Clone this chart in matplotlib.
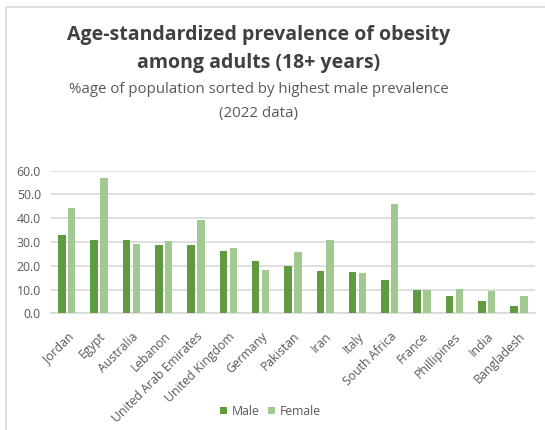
import numpy as np
import matplotlib.pyplot as plt
from matplotlib.lines import Line2D

# Obesity prevalence (%), adults 18+, 2022
countries = ["Jordan", "Egypt", "Australia", "Lebanon", "United Arab Emirates",
             "United Kingdom", "Germany", "Pakistan", "Iran", "Italy",
             "South Africa", "France", "Phillipines", "India", "Bangladesh"]
male = [32.8, 31.0, 31.0, 28.6, 28.6, 26.2, 22.2, 19.8, 17.7, 17.3, 13.9, 9.7, 7.2, 5.0, 2.9]
female = [44.2, 57.1, 29.2, 30.6, 39.4, 27.3, 18.2, 25.8, 30.9, 17.0, 45.9, 9.7, 10.2, 9.3, 7.4]

male_color = "#5f9b3f"
female_color = "#a2c991"
text_gray = "#595959"

plt.rcParams['font.family'] = ['Open Sans', 'DejaVu Sans']

fig = plt.figure(figsize=(5.45, 4.3), dpi=100)
ax = fig.add_axes([0.093, 0.2714, 0.889, 0.3318])

x = np.arange(len(countries))
w = 0.23
off = 0.153
ax.bar(x - off, male, width=w, color=male_color, label="Male", zorder=3)
ax.bar(x + off, female, width=w, color=female_color, label="Female", zorder=3)

ax.set_xlim(-0.5, len(countries) - 0.5)
ax.set_ylim(0, 60)
ax.set_yticks(np.arange(0, 61, 10))
ax.set_yticklabels([f"{v:.1f}" for v in np.arange(0, 61, 10)])
ax.yaxis.grid(True, color="#d9d9d9", linewidth=1.2, zorder=0)
ax.set_axisbelow(True)
for s in ["top", "right", "left"]:
    ax.spines[s].set_visible(False)
ax.spines["bottom"].set_color("#d9d9d9")
ax.spines["bottom"].set_linewidth(1.2)
ax.tick_params(axis="both", length=0, colors=text_gray, labelsize=8.8)
ax.tick_params(axis="y", pad=7)
ax.set_xticks(x)
ax.set_xticklabels(countries, rotation=45, ha="right", rotation_mode="anchor")
ax.tick_params(axis="x", pad=12)

cx = 0.474
fig.text(cx, 0.919, "Age-standardized prevalence of obesity", ha="center",
         va="center", fontsize=14, fontweight="bold", color="#404040")
fig.text(cx, 0.853, "among adults (18+ years)", ha="center",
         va="center", fontsize=14, fontweight="bold", color="#404040")
fig.text(cx, 0.793, "%age of population sorted by highest male prevalence",
         ha="center", va="center", fontsize=10.8, color=text_gray)
fig.text(cx, 0.735, "(2022 data)", ha="center", va="center",
         fontsize=10.8, color=text_gray)

fig.legend(loc="center", bbox_to_anchor=(0.496, 0.043), ncol=2, frameon=False,
           fontsize=8.8, labelcolor=text_gray, handlelength=0.55, handleheight=0.55,
           handletextpad=0.35, columnspacing=0.75)

# light outer frame on the left and top
fig.add_artist(Line2D([0.0101, 0.0101], [0, 0.983], color="#d9d9d9", linewidth=1.2))
fig.add_artist(Line2D([0.0101, 1.0], [0.983, 0.983], color="#d9d9d9", linewidth=1.2))

fig.savefig("out.png", dpi=100)
